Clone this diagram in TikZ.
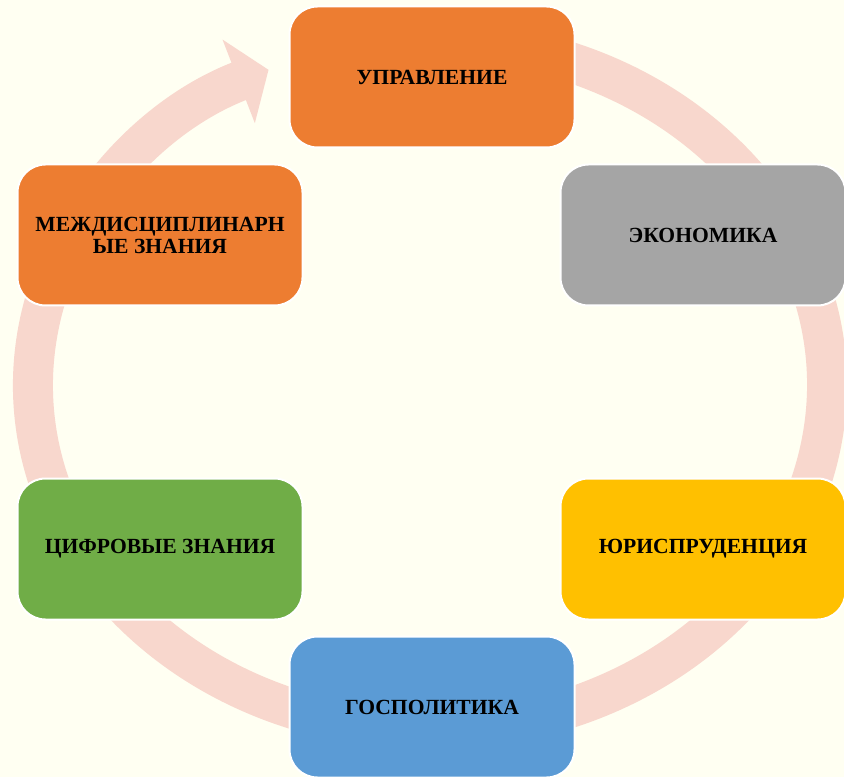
\documentclass[tikz,border=0pt]{standalone}
\usepackage{fontspec}
\setmainfont{Liberation Serif}
\usetikzlibrary{arrows.meta,positioning}

\definecolor{bgivory}{RGB}{255,255,242}
\definecolor{cyclepink}{RGB}{248,215,205}
\definecolor{boxorange}{RGB}{237,125,49}
\definecolor{boxgrey}{RGB}{165,165,165}
\definecolor{boxyellow}{RGB}{255,192,0}
\definecolor{boxblue}{RGB}{91,155,213}
\definecolor{boxgreen}{RGB}{112,173,71}

\tikzset{
  field/.style={draw=white, line width=1pt, rounded corners=14pt,
    minimum width=142.5pt, minimum height=70.5pt, align=center,
    font=\fontsize{10.8}{11}\selectfont\bfseries, text=black},
  cycle/.style={draw=cyclepink, line width=20pt,
    -{Triangle[width=44pt,length=16pt]}}
}

\begin{document}
\begin{tikzpicture}[x=0.5pt,y=0.5pt]
\useasboundingbox[fill=bgivory] (0,0) rectangle (844,777);
% background cycle arrow
\draw[cycle] (430,392) ++(80:397 and 345)
  arc[start angle=80, end angle=-246, x radius=397, y radius=345];
% fields
\node[field, fill=boxorange] (upr) at (432,700) {УПРАВЛЕНИЕ};
\node[field, fill=boxgrey] (econ) at (703,542) {ЭКОНОМИКА};
\node[field, fill=boxyellow] (jur) at (703,228) {ЮРИСПРУДЕНЦИЯ};
\node[field, fill=boxblue] (gospol) at (432,70) {ГОСПОЛИТИКА};
\node[field, fill=boxgreen] (cifr) at (160,228) {ЦИФРОВЫЕ ЗНАНИЯ};
\node[field, fill=boxorange] (mezhd) at (160,542) {МЕЖДИСЦИПЛИНАРН\\ЫЕ ЗНАНИЯ};
\end{tikzpicture}
\end{document}
